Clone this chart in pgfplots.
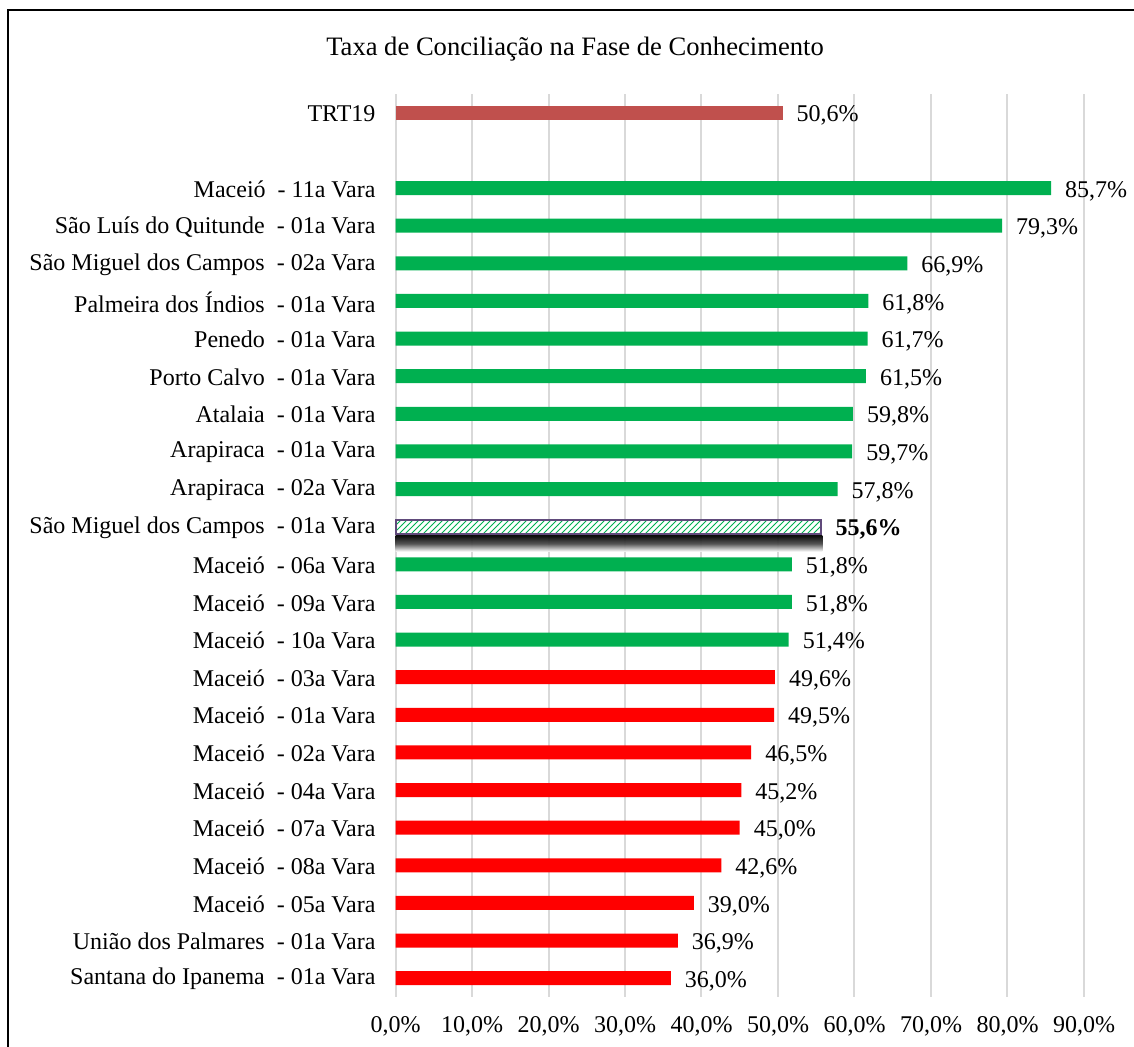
\documentclass[border=0pt]{standalone}
\usepackage{fontspec}
\setmainfont{Liberation Serif}
\usepackage{pgfplots}
\pgfplotsset{compat=1.18}
\usetikzlibrary{patterns}

\definecolor{trt}{HTML}{C0504D}
\definecolor{verde}{HTML}{00B050}
\definecolor{verm}{HTML}{FF0000}
\definecolor{roxo}{HTML}{604A7B}
\definecolor{grade}{HTML}{D9D9D9}

\begin{document}
\begin{tikzpicture}
\useasboundingbox (0,0) rectangle (567pt,523.5pt);
\draw[line width=1pt] (4pt,-10pt) -- (4pt,518.5pt) -- (580pt,518.5pt);
\node[font=\fontsize{13.3}{16}\selectfont] at (287.5pt,499pt) {Taxa de Conciliação na Fase de Conhecimento};
\begin{axis}[
  scale only axis, width=344.25pt, height=451.5pt,
  at={(197.75pt,25pt)}, anchor=south west,
  xbar, bar width=7pt, bar shift=0pt,
  clip=false,
  xmin=0, xmax=90, ymin=-0.5, ymax=23.5,
  /pgf/number format/assume math mode=true,
  point meta=x,
  xtick={0,10,...,90},
  xticklabel={\pgfmathprintnumber[fixed,fixed zerofill,precision=1,use comma]{\tick}\%},
  xmajorgrids, grid style={draw=grade, line width=1pt},
  axis line style={draw=none},
  major tick length=0pt,
  ytick={0,...,21,23},
  yticklabels={
    Santana do Ipanema~ - 01a Vara,
    União dos Palmares~ - 01a Vara,
    Maceió~ - 05a Vara,
    Maceió~ - 08a Vara,
    Maceió~ - 07a Vara,
    Maceió~ - 04a Vara,
    Maceió~ - 02a Vara,
    Maceió~ - 01a Vara,
    Maceió~ - 03a Vara,
    Maceió~ - 10a Vara,
    Maceió~ - 09a Vara,
    Maceió~ - 06a Vara,
    São Miguel dos Campos~ - 01a Vara,
    Arapiraca~ - 02a Vara,
    Arapiraca~ - 01a Vara,
    Atalaia~ - 01a Vara,
    Porto Calvo~ - 01a Vara,
    Penedo~ - 01a Vara,
    Palmeira dos Índios~ - 01a Vara,
    São Miguel dos Campos~ - 02a Vara,
    São Luís do Quitunde~ - 01a Vara,
    Maceió~ - 11a Vara,
    TRT19},
  yticklabel style={font=\fontsize{12}{14}\selectfont, xshift=-6.5pt, yshift=-0.5pt},
  xticklabel style={font=\fontsize{12}{14}\selectfont, yshift=-6pt},
  every node near coord/.append style={font=\fontsize{12}{14}\selectfont, xshift=3.5pt, yshift=-1.5pt},
  lbl/.style={nodes near coords={\pgfmathprintnumber[fixed,fixed zerofill,precision=1,use comma]{\pgfplotspointmeta}\%}},
]
\addplot[fill=trt, draw=none, lbl] coordinates {(50.6,23)};
\addplot[fill=verde, draw=none, lbl] coordinates {
(51.4,9) (51.8,10) (51.8,11)
(57.8,13) (59.7,14) (59.8,15) (61.5,16) (61.7,17) (61.8,18) (66.9,19) (79.3,20) (85.7,21)};
\addplot[fill=verm, draw=none, lbl] coordinates {
(36.0,0) (36.9,1) (39.0,2) (42.6,3) (45.0,4) (45.2,5) (46.5,6) (49.5,7) (49.6,8)};
% shadow
\addplot[draw=none, bar width=8pt, top color=black, bottom color=white, middle color=black!70, opacity=0.95] coordinates {(55.8,11.55)};
\addplot[preaction={fill=white}, pattern=north east lines, pattern color=verde, draw=roxo, line width=1pt, lbl,
  every node near coord/.append style={font=\fontsize{12}{14}\selectfont\bfseries}] coordinates {(55.6,12)};
\end{axis}
\end{tikzpicture}
\end{document}
